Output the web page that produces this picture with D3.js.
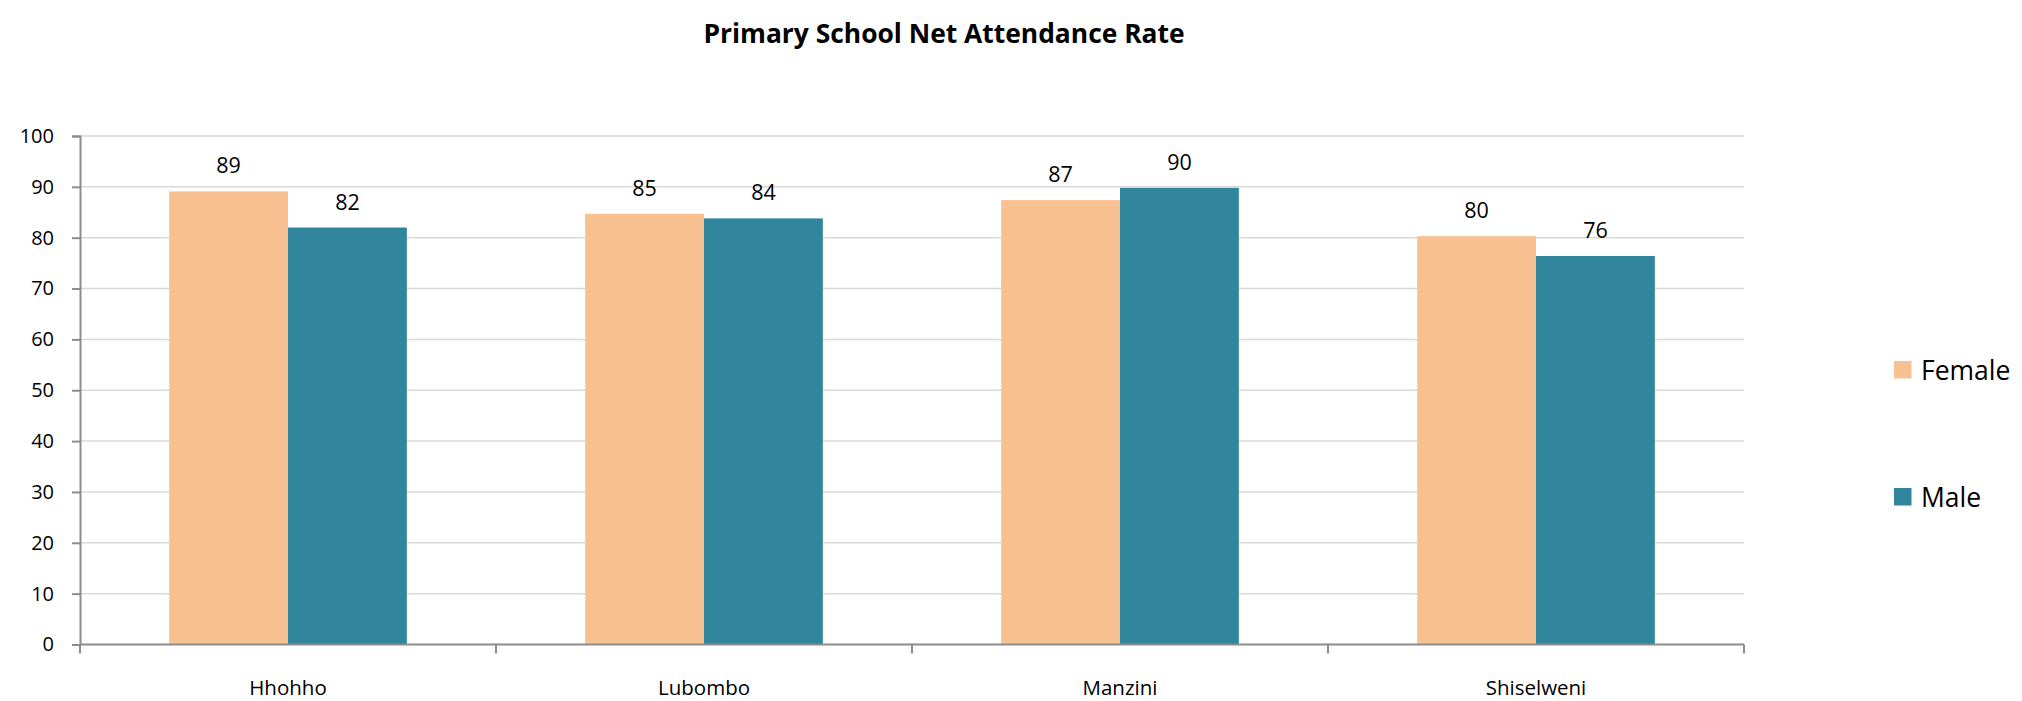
<!DOCTYPE html>
<html>
<head>
<meta charset="utf-8">
<script src="https://cdn.jsdelivr.net/npm/d3@7"></script>
<style>
  html, body { margin: 0; padding: 0; background: #ffffff; }
  svg { display: block; font-family: "Open Sans", "Noto Sans", sans-serif; }
</style>
</head>
<body>
<svg id="chart" width="2022" height="701"></svg>
<script>
// Primary school net attendance rate by region and sex
const regions = ["Hhohho", "Lubombo", "Manzini", "Shiselweni"];
const seriesNames = ["Female", "Male"];
const femaleValues = [89.1, 84.7, 87.4, 80.3];
const maleValues = [82.0, 83.8, 89.8, 76.4];
const yTicks = [0, 10, 20, 30, 40, 50, 60, 70, 80, 90, 100];
const colors = ["#f9c091", "#31859c"];

const svg = d3.select("#chart");
const plot = { left: 80, right: 1744, top: 136, bottom: 644.5 };

const x0 = d3.scaleBand().domain(regions).range([plot.left, plot.right]).paddingInner(0).paddingOuter(0);
const x1 = d3.scaleBand().domain(seriesNames).range([0, x0.bandwidth()]).paddingInner(0).paddingOuter(0.75);
const y = d3.scaleLinear().domain([0, 100]).range([plot.bottom, plot.top]);
const color = d3.scaleOrdinal().domain(seriesNames).range(colors);

const rows = regions.map((r, i) => ({ region: r, values: [
  { name: "Female", value: femaleValues[i] },
  { name: "Male", value: maleValues[i] }
]}));

// Title
svg.append("text")
  .attr("x", 944).attr("y", 43)
  .attr("text-anchor", "middle")
  .attr("font-size", 26.4).attr("font-weight", "bold").attr("fill", "#000")
  .text("Primary School Net Attendance Rate");

// Horizontal gridlines
svg.append("g")
  .selectAll("line")
  .data(yTicks.filter(t => t > 0))
  .join("line")
  .attr("x1", plot.left).attr("x2", plot.right)
  .attr("y1", d => y(d)).attr("y2", d => y(d))
  .attr("stroke", "#d9d9d9").attr("stroke-width", 1.5);

// Bars
const groups = svg.append("g")
  .selectAll("g")
  .data(rows)
  .join("g")
  .attr("transform", d => `translate(${x0(d.region)},0)`);

groups.selectAll("rect")
  .data(d => d.values)
  .join("rect")
  .attr("x", d => x1(d.name))
  .attr("width", x1.bandwidth())
  .attr("y", d => y(d.value))
  .attr("height", d => y(0) - y(d.value))
  .attr("fill", d => color(d.name));

// Value labels
groups.selectAll("text")
  .data(d => d.values)
  .join("text")
  .attr("x", d => x1(d.name) + x1.bandwidth() / 2)
  .attr("y", d => y(d.value) - 18)
  .attr("text-anchor", "middle")
  .attr("font-size", 21.5).attr("fill", "#000")
  .text(d => d3.format(".0f")(d.value));

// Y axis
const yAxis = svg.append("g")
  .attr("transform", `translate(${plot.left},0)`)
  .call(d3.axisLeft(y).tickValues(yTicks).tickSize(8).tickPadding(18));
yAxis.select(".domain").attr("stroke", "#8c8c8c").attr("stroke-width", 2);
yAxis.selectAll(".tick line").attr("stroke", "#8c8c8c").attr("stroke-width", 2);
yAxis.selectAll(".tick text").attr("font-size", 20).attr("fill", "#000")
  .attr("font-family", "'Open Sans', 'Noto Sans', sans-serif");

// X axis: ticks at category boundaries, labels centered in each band
const xAxis = svg.append("g")
  .attr("transform", `translate(0,${plot.bottom})`);
xAxis.append("line")
  .attr("x1", plot.left).attr("x2", plot.right)
  .attr("stroke", "#8c8c8c").attr("stroke-width", 2);
const boundaries = regions.map(r => x0(r)).concat([x0.range()[1]]);
xAxis.selectAll("line.tick")
  .data(boundaries)
  .join("line")
  .attr("class", "tick")
  .attr("x1", d => d).attr("x2", d => d)
  .attr("y1", 0).attr("y2", 9)
  .attr("stroke", "#8c8c8c").attr("stroke-width", 2);
xAxis.selectAll("text")
  .data(regions)
  .join("text")
  .attr("x", d => x0(d) + x0.bandwidth() / 2)
  .attr("y", 50)
  .attr("text-anchor", "middle")
  .attr("font-size", 20.5).attr("fill", "#000")
  .text(d => d);

// Legend
const legend = svg.append("g")
  .selectAll("g")
  .data(seriesNames)
  .join("g")
  .attr("transform", (d, i) => `translate(1894,${361 + i * 127})`);
legend.append("rect")
  .attr("width", 17.5).attr("height", 17.5)
  .attr("fill", d => color(d));
legend.append("text")
  .attr("x", 27).attr("y", 19)
  .attr("font-size", 26.5).attr("fill", "#000")
  .text(d => d);
</script>
</body>
</html>
